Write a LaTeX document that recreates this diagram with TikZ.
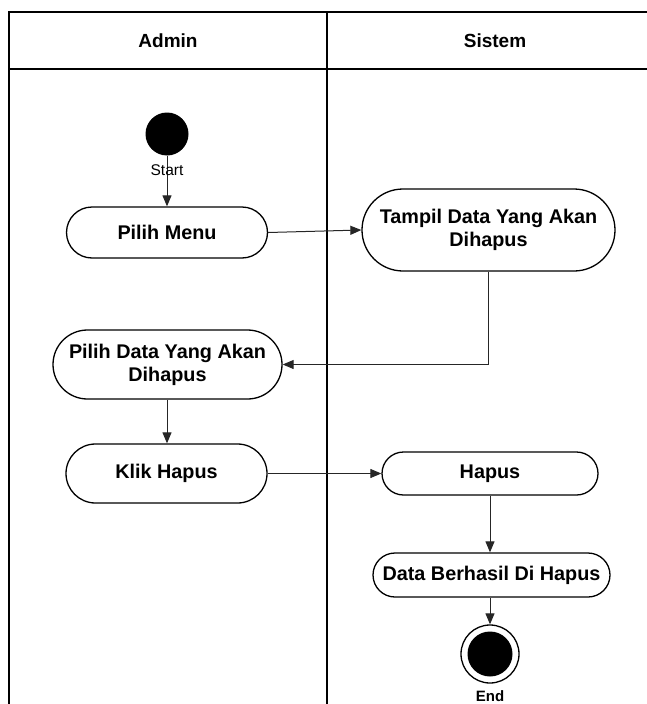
\documentclass[tikz,border=0pt]{standalone}
\usepackage{fontspec}
\setmainfont{Liberation Sans}
\usetikzlibrary{shapes.misc,arrows.meta}

\tikzset{
  lane/.style={draw=black, line width=1.2pt},
  activity/.style={rounded rectangle, draw=black, line width=1.3pt, fill=white,
    inner sep=0pt, align=center,
    font=\fontsize{19.8}{23}\selectfont\bfseries},
  flow/.style={draw=black!85, line width=1pt,
    -{Triangle[length=11pt,width=9pt]}},
  startdot/.style={circle, fill=black, inner sep=0pt, minimum size=43pt},
  endring/.style={circle, draw=black, line width=1.3pt, fill=white,
    inner sep=0pt, minimum size=58pt},
  enddot/.style={circle, fill=black, inner sep=0pt, minimum size=45pt},
  lanehead/.style={font=\fontsize{19}{22}\selectfont\bfseries},
}

\begin{document}
\begin{tikzpicture}[x=1pt, y=-1pt]
  \useasboundingbox (0,0) rectangle (646,704);

  % swimlane frame with header row
  \draw[lane] (9,720) -- (9,12) -- (663,12) -- (663,720);
  \draw[lane] (9,69) -- (663,69);
  \draw[lane] (327,12) -- (327,720);
  \node[lanehead] (hadmin) at (168,41) {Admin};
  \node[lanehead] (hsistem) at (495,41) {Sistem};

  % activities
  \node[startdot] (start) at (167,134) {};
  \node[activity, minimum width=201pt, minimum height=51pt] (pm) at (167,232.5) {Pilih Menu};
  \node[activity, minimum width=253pt, minimum height=82pt] (tampil) at (488.5,230) {Tampil Data Yang Akan\\Dihapus};
  \node[activity, minimum width=229pt, minimum height=69pt] (pdata) at (167.5,364.5) {Pilih Data Yang Akan\\Dihapus};
  \node[activity, minimum width=201pt, minimum height=59pt] (klik) at (166.5,473.5) {Klik Hapus};
  \node[activity, minimum width=216pt, minimum height=43pt] (hapus) at (490,473.5) {Hapus};
  \node[activity, minimum width=237pt, minimum height=44pt] (berhasil) at (491.5,575) {Data Berhasil Di Hapus};
  \node[endring] (end) at (490,654) {};
  \node[enddot] (enddot) at (end) {};

  % transitions
  \draw[flow] (start) -- (start |- pm.north);
  \draw[flow] (pm.east) -- (tampil.west);
  \draw[flow] (tampil.south) |- (pdata.east);
  \draw[flow] (pdata.south -| start) -- (start |- klik.north);
  \draw[flow] (klik.east) -- (hapus.west);
  \draw[flow] (hapus.south) -- (hapus.south |- berhasil.north);
  \draw[flow] (berhasil.south -| end) -- (end.north);

  % labels of the initial and final states
  \node[font=\fontsize{15.5}{17}\selectfont] (startlbl) at (167,170) {Start};
  \node[font=\fontsize{15}{17}\selectfont\bfseries] (endlbl) at (490,696) {End};
\end{tikzpicture}
\end{document}
